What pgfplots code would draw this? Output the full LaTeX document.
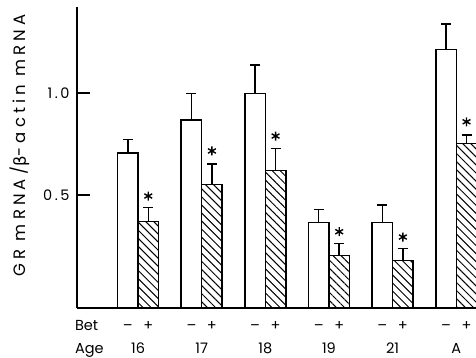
\documentclass[border=0pt]{standalone}
\usepackage{pgfplots}
\pgfplotsset{compat=1.18}
\usepackage{pgfplotstable}
\usepackage{fontspec}
\setmainfont{Poppins}
\newfontfamily\ylabfont[LetterSpace=25]{Poppins}
\newfontfamily\grk[LetterSpace=25]{DejaVu Sans}
\usetikzlibrary{patterns.meta}

% wx/hx: bar centres; w/we: Bet - mean and +error; h/he: Bet + mean and +error; sy: significance star
\pgfplotstableread{
wx     w     we    hx    h     he    sy
-0.161 0.707 0.066 0.161 0.369 0.069 0.495
0.839  0.868 0.130 1.161 0.552 0.100 0.716
1.839  0.998 0.139 2.161 0.619 0.110 0.789
2.839  0.364 0.066 3.161 0.204 0.059 0.320
3.839  0.364 0.087 4.161 0.178 0.059 0.294
4.839  1.214 0.124 5.161 0.753 0.041 0.859
}\data

\begin{document}
\begin{tikzpicture}
\useasboundingbox (-77pt,-50pt) rectangle (399pt,308pt);
\begin{axis}[
  at={(0pt,0pt)}, anchor=south west,
  scale only axis, width=399pt, height=301pt,
  xmin=-0.959, xmax=5.31, ymin=0, ymax=1.4755,
  y filter/.expression={y+0.0539},
  axis x line*=bottom, axis y line*=left,
  axis line style={line width=1.5pt},
  ytick={0.5539,1.0539}, yticklabels={0\kern2.5pt.\kern2.5pt5,1\kern2.5pt.\kern2.5pt0},
  tick align=inside, major tick length=13pt,
  ytick style={line width=1.5pt, black},
  yticklabel style={xshift=-4pt},
  /pgf/number format/assume math mode=true,
  tick label style={font=\fontsize{14.5}{16}\selectfont},
  xtick={-0.95,0,1,2,3,4,5},
  xticklabels={\rlap{\hspace{-2.5pt}Age},16,17,18,19,21,A},
  xtick style={draw=none},
  xticklabel style={anchor=base, yshift=-46pt},
  extra x ticks={-0.95,-0.161,0.161,0.839,1.161,1.839,2.161,2.839,3.161,3.839,4.161,4.839,5.161},
  extra x tick labels={\rlap{\hspace{-2.5pt}Bet},\textendash,+,\textendash,+,\textendash,+,\textendash,+,\textendash,+,\textendash,+},
  extra x tick style={xtick style={draw=none}, xticklabel style={yshift=23pt}},
  ylabel={GR mRNA/{\grk β}-actin mRNA},
  ylabel style={at={(axis description cs:-0.143,0.54)}, anchor=center, font=\fontsize{16.5}{18}\ylabfont},
  error bars/error bar style={line width=1.5pt, black},
  error bars/error mark options={line width=1.5pt, mark size=5pt, black, rotate=90},
]
\addplot[ybar, bar width=20.5pt, bar shift=0pt, fill=white, draw=black, line width=1.5pt,
  error bars/.cd, y dir=plus, y explicit]
  table[x=wx, y=w, y error=we]{\data};
\addplot[ybar, bar width=20.5pt, bar shift=0pt, draw=black, line width=1.5pt,
  pattern={Lines[angle=-45, distance=5.7pt, line width=1pt]},
  error bars/.cd, y dir=plus, y explicit]
  table[x=hx, y=h, y error=he]{\data};
\addplot[only marks, mark=asterisk, mark size=4.5pt, mark options={line width=1.4pt, black}]
  table[x=hx, y=sy]{\data};
\end{axis}
\end{tikzpicture}
\end{document}
